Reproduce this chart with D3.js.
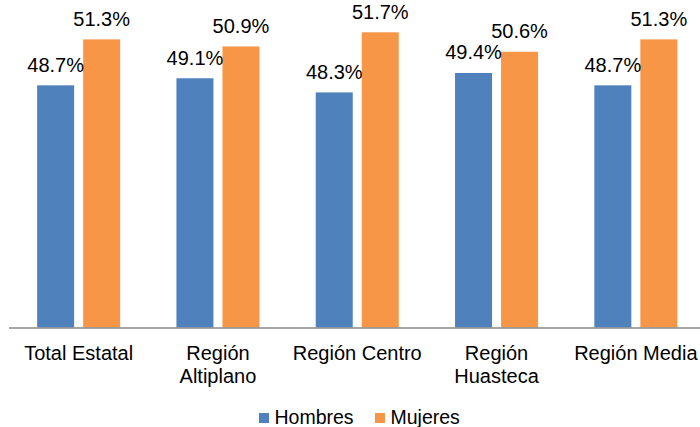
<!DOCTYPE html>
<html>
<head>
<meta charset="utf-8">
<script src="https://cdn.jsdelivr.net/npm/d3@7"></script>
<style>
  body { margin: 0; background: #fff; }
  text { font-family: "Liberation Sans", Arial, sans-serif; fill: #000; }
</style>
</head>
<body>
<div id="wrapper"></div>
<script>
// ---------- DATA ----------------------------------------
const regions = ["Total Estatal", "Región Altiplano", "Región Centro", "Región Huasteca", "Región Media"];
// line breaks in the category labels as in the picture
const regionLines = [["Total Estatal"], ["Región", "Altiplano"], ["Región Centro"], ["Región", "Huasteca"], ["Región Media"]];
const seriesNames = ["Hombres", "Mujeres"];
const hombres = [48.7, 49.1, 48.3, 49.4, 48.7];
const mujeres = [51.3, 50.9, 51.7, 50.6, 51.3];
const colors = ["#4F81BD", "#F79646"];

// ---------- DIMENSIONS ----------------------------------
const dimensions = { width: 700, height: 427 };
const plot = { left: 9, right: 705.5, top: 27, bottom: 327.5 };

const svg = d3.select("#wrapper")
  .append("svg")
  .attr("width", dimensions.width)
  .attr("height", dimensions.height);

// ---------- SCALES --------------------------------------
const xScale = d3.scaleBand()
  .domain(regions)
  .range([plot.left, plot.right])
  .paddingInner(0.404)
  .paddingOuter(0.202);

const xInner = d3.scaleBand()
  .domain(seriesNames)
  .range([0, xScale.bandwidth()])
  .paddingInner(0.196);

// value axis does not start at zero
const yScale = d3.scaleLinear()
  .domain([35, 52])
  .range([plot.bottom, plot.top]);

const colorScale = d3.scaleOrdinal().domain(seriesNames).range(colors);

// build rows for drawing
const rows = regions.map((r, i) => ({
  region: r,
  values: [
    { key: "Hombres", value: hombres[i] },
    { key: "Mujeres", value: mujeres[i] },
  ],
}));

// ---------- BARS ----------------------------------------
const groups = svg.append("g").selectAll("g")
  .data(rows)
  .join("g")
  .attr("transform", d => `translate(${xScale(d.region)},0)`);

groups.selectAll("rect")
  .data(d => d.values)
  .join("rect")
  .attr("x", d => xInner(d.key))
  .attr("y", d => yScale(d.value))
  .attr("width", xInner.bandwidth())
  .attr("height", d => yScale.range()[0] - yScale(d.value))
  .attr("fill", d => colorScale(d.key));

groups.selectAll("text.value")
  .data(d => d.values)
  .join("text")
  .attr("class", "value")
  .attr("x", d => xInner(d.key) + xInner.bandwidth() / 2)
  .attr("y", d => yScale(d.value) - 13.5)
  .attr("text-anchor", "middle")
  .style("font-size", "20px")
  .text(d => d.value.toFixed(1) + "%");

// ---------- X AXIS --------------------------------------
const xAxis = svg.append("g")
  .attr("transform", `translate(0,${plot.bottom})`)
  .call(d3.axisBottom(xScale).tickSize(0).tickFormat(""));
xAxis.select(".domain")
  .attr("d", `M${plot.left},0.5H${dimensions.width}`)
  .attr("stroke", "#898989")
  .attr("stroke-width", 1.5);

const labels = xAxis.selectAll(".tick")
  .append("text")
  .attr("text-anchor", "middle")
  .style("font-size", "20px");
labels.each(function (d) {
  const lines = regionLines[regions.indexOf(d)];
  d3.select(this).selectAll("tspan")
    .data(lines)
    .join("tspan")
    .attr("x", 0)
    .attr("y", (l, i) => 32.5 + i * 22.5)
    .text(l => l);
});

// ---------- LEGEND --------------------------------------
const legendX = [259, 375];
const legend = svg.append("g").selectAll("g")
  .data(seriesNames)
  .join("g")
  .attr("transform", (d, i) => `translate(${legendX[i]},413)`);
legend.append("rect")
  .attr("width", 10)
  .attr("height", 10)
  .attr("fill", d => colorScale(d));
legend.append("text")
  .attr("x", 15.5)
  .attr("y", 10.5)
  .style("font-size", "19.5px")
  .text(d => d);
</script>
</body>
</html>
